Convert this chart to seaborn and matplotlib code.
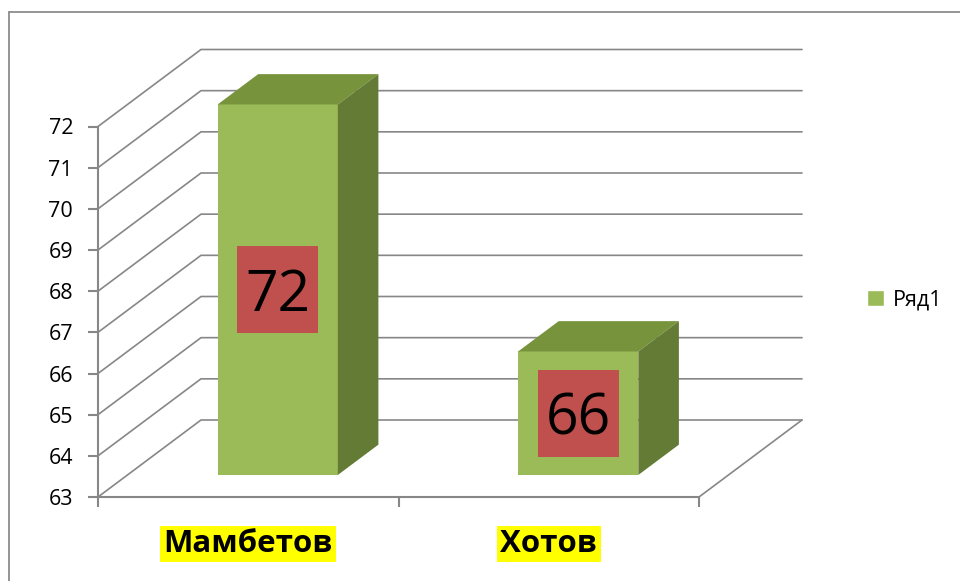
import numpy as np
import pandas as pd
import seaborn as sns
import matplotlib.pyplot as plt
from matplotlib.patches import Polygon, Patch, Rectangle
from matplotlib.lines import Line2D

# chart data
names = ["Мамбетов", "Хотов"]
values = [72, 66]
series_name = "Ряд1"
y_ticks = list(range(63, 73))
Y_MIN, Y_MAX = 63, 72

# colours
GREEN = "#9BBB59"
GREEN_TOP = "#77933C"
GREEN_SIDE = "#637B35"
LABEL_RED = "#C0504D"
GRID = "#878787"

# 3d look: depth offset of the back wall (pixels) and bar depth span
DX, DY = 103, 77
D0, D1 = 0.286, 0.68
# size of the data label box (pixels)
BOX_W, BOX_H = 81, 87


def main():
    sns.set_style("white")
    plt.rcParams["font.family"] = ["Open Sans", "DejaVu Sans"]
    plt.rcParams["text.color"] = "black"

    fig = plt.figure(figsize=(9.6, 5.81), dpi=100)
    ax = fig.add_axes([98 / 960, 84 / 581, 601 / 960, 370.5 / 581])

    df = pd.DataFrame({"name": names, "value": values})
    sns.barplot(data=df, x="name", y="value", color=GREEN, saturation=1,
                width=0.4, ax=ax, zorder=3)
    ax.set_xlim(-0.5, 1.5)
    ax.set_ylim(Y_MIN, Y_MAX)

    # pixel -> data unit conversion (axes are linear)
    base = ax.transData.transform((0, Y_MIN))
    inv = ax.transData.inverted()
    ddx, ddy = inv.transform(base + np.array([DX, DY])) - np.array([0, Y_MIN])
    bw, bh = inv.transform(base + np.array([BOX_W, BOX_H])) - np.array([0, Y_MIN])

    def P(x, y, d):
        return (x + d * ddx, y + d * ddy)

    # walls: left wall diagonals and back wall gridlines
    for v in y_ticks:
        xs, ys = zip(P(-0.5, v, 0), P(-0.5, v, 1), P(1.5, v, 1))
        ax.plot(xs, ys, color=GRID, lw=1.2, clip_on=False, zorder=1)
    xs, ys = zip(P(1.5, Y_MIN, 0), P(1.5, Y_MIN, 1))
    ax.plot(xs, ys, color=GRID, lw=1.2, clip_on=False, zorder=1)

    # move the seaborn bars into the 3d box and add top / side faces
    for patch, v in zip(ax.patches, values):
        x0 = patch.get_x()
        x1 = x0 + patch.get_width()
        fx, fy = P(x0, Y_MIN, D0)
        patch.set_x(fx)
        patch.set_y(fy)
        patch.set_height(v - Y_MIN)
        patch.set_linewidth(0)
        patch.set_clip_on(False)
        top = [P(x0, v, D0), P(x1, v, D0), P(x1, v, D1), P(x0, v, D1)]
        side = [P(x1, Y_MIN, D0), P(x1, v, D0), P(x1, v, D1), P(x1, Y_MIN, D1)]
        ax.add_patch(Polygon(top, closed=True, facecolor=GREEN_TOP, lw=0, clip_on=False, zorder=3))
        ax.add_patch(Polygon(side, closed=True, facecolor=GREEN_SIDE, lw=0, clip_on=False, zorder=3))
        # data label in the middle of the front face
        cx, cy = P((x0 + x1) / 2, (Y_MIN + v) / 2, D0)
        ax.add_patch(Rectangle((cx - bw / 2, cy - bh / 2), bw, bh, facecolor=LABEL_RED,
                               lw=0, clip_on=False, zorder=4))
        ax.text(cx, cy, f"{v}", ha="center", va="center_baseline", fontsize=41,
                color="black", zorder=5)

    # axes styling
    for s in ["top", "right"]:
        ax.spines[s].set_visible(False)
    for s in ["left", "bottom"]:
        ax.spines[s].set_color(GRID)
        ax.spines[s].set_linewidth(1.5)
        ax.spines[s].set_zorder(1)
    ax.set_yticks(y_ticks)
    ax.tick_params(axis="y", direction="out", length=7, width=1.5, color=GRID,
                   pad=11, labelsize=15.5, labelcolor="black", left=True)
    ax.set_xticks([0, 1])
    ax.set_xticklabels(names, fontsize=22.5, fontweight="bold")
    ax.tick_params(axis="x", length=0, pad=23, labelcolor="black")
    ax.set_xticks([-0.5, 0.5, 1.5], minor=True)
    ax.tick_params(axis="x", which="minor", direction="out", length=7, width=1.5,
                   color=GRID, bottom=True)
    for lbl in ax.get_xticklabels():
        lbl.set_bbox(dict(facecolor="yellow", edgecolor="none", pad=2.5))
    ax.set_xlabel("")
    ax.set_ylabel("")
    ax.grid(False)

    leg = ax.legend(handles=[Patch(facecolor=GREEN, label=series_name)], loc="center left",
                    bbox_to_anchor=(848 / 960, 281 / 581), bbox_transform=fig.transFigure,
                    frameon=False, fontsize=15.5, handlelength=0.75, handleheight=0.75,
                    handletextpad=0.45)
    for t in leg.get_texts():
        t.set_color("black")

    # outer chart border (runs off the right and bottom edges)
    fig.add_artist(Line2D([9 / 960, 1.0], [569 / 581, 569 / 581], color="#8C8C8C", lw=1.3))
    fig.add_artist(Line2D([9 / 960, 9 / 960], [0.0, 569 / 581], color="#8C8C8C", lw=1.3))

    fig.savefig("out.png", dpi=100, facecolor="white")


if __name__ == "__main__":
    main()
